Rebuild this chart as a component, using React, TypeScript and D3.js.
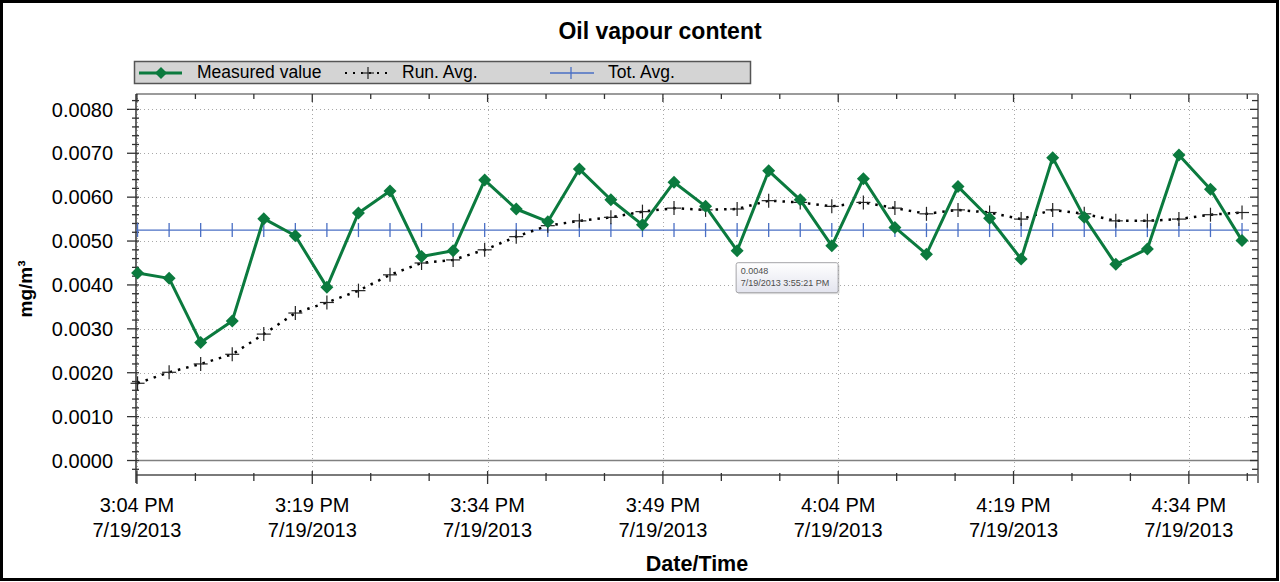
import * as d3 from 'd3';
import React from 'react';

// --------------------------------------------------------
// chart data (7/19/2013, afternoon)
// --------------------------------------------------------
const sampleTimes = [
  '15:04:03', '15:06:45', '15:09:27', '15:12:09', '15:14:51', '15:17:33',
  '15:20:15', '15:22:57', '15:25:39', '15:28:21', '15:31:03', '15:33:45',
  '15:36:27', '15:39:09', '15:41:51', '15:44:33', '15:47:15', '15:49:57',
  '15:52:39', '15:55:21', '15:58:03', '16:00:45', '16:03:27', '16:06:09',
  '16:08:51', '16:11:33', '16:14:15', '16:16:57', '16:19:39', '16:22:21',
  '16:25:03', '16:27:45', '16:30:27', '16:33:09', '16:35:51', '16:38:33'
];

const measuredValues = [
  0.00427, 0.00415, 0.00269, 0.00318, 0.00551, 0.00512, 0.00395, 0.00564, 0.00614,
  0.00465, 0.00478, 0.00639, 0.00573, 0.00544, 0.00664, 0.00594, 0.00537, 0.00634,
  0.00579, 0.00478, 0.00660, 0.00594, 0.00489, 0.00642, 0.00531, 0.00470, 0.00624,
  0.00552, 0.00459, 0.00690, 0.00554, 0.00447, 0.00482, 0.00696, 0.00618, 0.00501
];

const runAvgValues = [
  0.00176, 0.00201, 0.00220, 0.00242, 0.00288, 0.00336, 0.00360, 0.00387, 0.00423,
  0.00450, 0.00457, 0.00480, 0.00510, 0.00535, 0.00546, 0.00554, 0.00567, 0.00575,
  0.00571, 0.00573, 0.00592, 0.00588, 0.00579, 0.00588, 0.00575, 0.00562, 0.00571,
  0.00565, 0.00550, 0.00571, 0.00562, 0.00546, 0.00546, 0.00550, 0.00560, 0.00565
];

const totAvgValue = 0.00525;

const yMajorTicks = [0, 0.001, 0.002, 0.003, 0.004, 0.005, 0.006, 0.007, 0.008];
const xMajorTicks = ['15:04:00', '15:19:00', '15:34:00', '15:49:00', '16:04:00', '16:19:00', '16:34:00'];
const xDomain = ['15:03:55', '16:39:55'];
const yDomain = [-0.00033, 0.00835];

const legendItems = ['Measured value', 'Run. Avg.', 'Tot. Avg.'];
const tooltipIndex = 19;

// --------------------------------------------------------
const W = 1280, H = 582;
const plot = { left: 136, right: 1258, top: 94, bottom: 475 };
const GREEN = '#0b7a3e';
const BLUE = '#4a6fc4';
const FONT = '"Liberation Sans", Arial, sans-serif';

const parseTime = d3.timeParse('%m/%d/%Y %H:%M:%S');
const toDate = (t: string) => parseTime('07/19/2013 ' + t) as Date;

function App() {
  const x = d3.scaleTime()
    .domain(xDomain.map(toDate))
    .range([plot.left, plot.right]);
  const y = d3.scaleLinear()
    .domain(yDomain)
    .range([plot.bottom, plot.top]);

  const dates = sampleTimes.map(toDate);
  const measured = dates.map((d, i) => ({ d, v: measuredValues[i] }));
  const runAvg = dates.map((d, i) => ({ d, v: runAvgValues[i] }));

  const line = d3.line<{ d: Date, v: number }>().x(p => x(p.d)).y(p => y(p.v));

  // minor ticks: every 5 minutes on x, every 0.0002 on y
  const xMinor = d3.timeMinute.range(toDate('15:04:00'), toDate('16:40:00'))
    .filter(d => (d.getMinutes() + 60 - 4) % 5 === 0);
  const yMinor = d3.range(-1, 42).map(i => i * 0.0002)
    .filter(v => v >= yDomain[0] && v <= yDomain[1]);

  const fmtTime = d3.timeFormat('%-I:%M %p');
  const fmtDate = d3.timeFormat('%-m/%-d/%Y');
  const fmtVal = d3.format('.4f');
  const fmtTip = d3.timeFormat('%-m/%-d/%Y %-I:%M:%S %p');

  const diamond = (cx: number, cy: number, r: number) =>
    `M${cx},${cy - r}L${cx + r},${cy}L${cx},${cy + r}L${cx - r},${cy}Z`;

  const isMajorX = (d: Date) => xMajorTicks.some(t => +toDate(t) === +d);
  const isMajorY = (v: number) => yMajorTicks.some(t => Math.abs(t - v) < 1e-9);

  const tip = measured[tooltipIndex];
  const tipX = x(tip.d) - 1, tipY = y(tip.v) + 12;

  return (
    <svg width={W} height={H} style={{ position: 'absolute', left: 0, top: 0, background: '#fff' }}
      fontFamily={FONT}>
      <defs>
        <clipPath id="plotClip">
          <rect x={plot.left} y={plot.top} width={plot.right - plot.left} height={plot.bottom - plot.top} />
        </clipPath>
        <linearGradient id="tipGrad" x1="0" y1="0" x2="0" y2="1">
          <stop offset="0" stopColor="#ffffff" />
          <stop offset="1" stopColor="#e3e4ee" />
        </linearGradient>
      </defs>

      {/* outer frame */}
      <rect x={1.5} y={1.5} width={W - 4} height={H - 4} fill="#fff" stroke="#000" strokeWidth={3} />

      {/* title */}
      <text x={660} y={39} textAnchor="middle" fontSize={23} fontWeight="bold">Oil vapour content</text>

      {/* legend */}
      <g>
        <rect x={134.5} y={61.5} width={616} height={22} fill="#d4d4d4" stroke="#555" strokeWidth={1.5} />
        <line x1={139} x2={182} y1={73} y2={73} stroke={GREEN} strokeWidth={3} />
        <path d={diamond(161, 73, 6)} fill={GREEN} />
        <text x={197} y={78} fontSize={17.5}>{legendItems[0]}</text>

        <line x1={345} x2={390} y1={73} y2={73} stroke="#000" strokeWidth={2.2} strokeDasharray="2 6" />
        <line x1={362} x2={374} y1={73} y2={73} stroke="#222" strokeWidth={1.2} />
        <line x1={368} x2={368} y1={67} y2={79} stroke="#222" strokeWidth={1.2} />
        <text x={402} y={78} fontSize={17.5}>{legendItems[1]}</text>

        <line x1={550} x2={594} y1={73} y2={73} stroke={BLUE} strokeWidth={1.3} />
        <line x1={571} x2={571} y1={67} y2={79} stroke={BLUE} strokeWidth={1.3} />
        <text x={608} y={78} fontSize={17.5}>{legendItems[2]}</text>
      </g>

      {/* grid */}
      <g stroke="#a8a8a8" strokeWidth={1} strokeDasharray="1 3">
        {yMajorTicks.filter(v => v > 0).map(v => (
          <line key={'gy' + v} x1={plot.left} x2={plot.right} y1={Math.round(y(v)) + 0.5} y2={Math.round(y(v)) + 0.5} />
        ))}
        {xMajorTicks.map(t => (
          <line key={'gx' + t} x1={Math.round(x(toDate(t))) + 0.5} x2={Math.round(x(toDate(t))) + 0.5}
            y1={plot.top} y2={plot.bottom} />
        ))}
      </g>

      {/* zero line */}
      <line x1={plot.left} x2={plot.right} y1={y(0)} y2={y(0)} stroke="#808080" strokeWidth={1.5} />

      {/* plot frame: top and right mirror the ticks */}
      <line x1={plot.left} x2={plot.right} y1={plot.top} y2={plot.top} stroke="#7a7a7a" strokeWidth={1.5} />
      <line x1={plot.right} x2={plot.right} y1={plot.top} y2={plot.bottom + 8} stroke="#7a7a7a" strokeWidth={2} />
      <line x1={plot.left} x2={plot.right} y1={plot.bottom} y2={plot.bottom} stroke="#7a7a7a" strokeWidth={2} />
      <line x1={plot.left} x2={plot.left} y1={plot.top} y2={plot.bottom + 8} stroke="#333" strokeWidth={1.5} />

      {/* x ticks (bottom and top) */}
      <g stroke="#333" strokeWidth={1.3}>
        {xMinor.map(d => {
          const major = isMajorX(d);
          const px = x(d);
          return (
            <g key={'xt' + +d}>
              <line x1={px} x2={px} y1={plot.bottom - (major ? 4 : 2)} y2={plot.bottom + (major ? 9 : 6)} />
              <line x1={px} x2={px} y1={plot.top} y2={plot.top + (major ? 8 : 5)} />
            </g>
          );
        })}
      </g>

      {/* y ticks (left and right) */}
      <g stroke="#333" strokeWidth={1.3}>
        {yMinor.map(v => {
          const major = isMajorY(v);
          const py = y(v);
          return (
            <g key={'yt' + v}>
              <line x1={plot.left - (major ? 9 : 4)} x2={plot.left + 3} y1={py} y2={py} />
              <line x1={plot.right - (major ? 8 : 6)} x2={plot.right} y1={py} y2={py} />
            </g>
          );
        })}
      </g>

      {/* y tick labels */}
      <g fontSize={20} textAnchor="end">
        {yMajorTicks.map(v => (
          <text key={'yl' + v} x={113} y={y(v)} dy="0.36em">{fmtVal(v)}</text>
        ))}
      </g>

      {/* x tick labels */}
      <g fontSize={20} textAnchor="middle">
        {xMajorTicks.map(t => {
          const d = toDate(t);
          return (
            <g key={'xl' + t}>
              <text x={x(d)} y={512}>{fmtTime(d)}</text>
              <text x={x(d)} y={537}>{fmtDate(d)}</text>
            </g>
          );
        })}
      </g>

      {/* axis titles */}
      <text x={(plot.left + plot.right) / 2} y={571} textAnchor="middle" fontSize={21.5} fontWeight="bold">Date/Time</text>
      <text transform={`translate(32,${289}) rotate(-90)`} textAnchor="middle" fontSize={19} fontWeight="bold">mg/m³</text>

      {/* total average */}
      <g clipPath="url(#plotClip)" stroke={BLUE} strokeWidth={1.3}>
        <line x1={x(dates[0]) - 7} x2={x(dates[dates.length - 1]) + 7} y1={y(totAvgValue)} y2={y(totAvgValue)} />
        {dates.map((d, i) => (
          <line key={'ta' + i} x1={x(d)} x2={x(d)} y1={y(totAvgValue) - 7} y2={y(totAvgValue) + 7} />
        ))}
      </g>

      {/* running average */}
      <path d={line(runAvg) || ''} fill="none" stroke="#000" strokeWidth={2.5} strokeDasharray="2.5 6" />
      <g stroke="#222" strokeWidth={1.2}>
        {runAvg.map((p, i) => (
          <g key={'ra' + i}>
            <line x1={x(p.d) - 7} x2={x(p.d) + 7} y1={y(p.v)} y2={y(p.v)} />
            <line x1={x(p.d)} x2={x(p.d)} y1={y(p.v) - 7} y2={y(p.v) + 7} />
          </g>
        ))}
      </g>

      {/* measured values */}
      <path d={line(measured) || ''} fill="none" stroke={GREEN} strokeWidth={3} strokeLinejoin="round" />
      {measured.map((p, i) => (
        <path key={'mv' + i} d={diamond(x(p.d), y(p.v), 6.5)} fill={GREEN} />
      ))}

      {/* tooltip */}
      <g>
        <rect x={tipX + 1.5} y={tipY + 1.5} width={102} height={30} rx={2} fill="#000" opacity={0.12} />
        <rect x={tipX} y={tipY} width={102} height={30} rx={2} fill="url(#tipGrad)" stroke="#a4a4a8" strokeWidth={1} />
        <text x={tipX + 4.5} y={tipY + 11.5} fontSize={9} fill="#4d4d4d">{fmtVal(tip.v)}</text>
        <text x={tipX + 4.5} y={tipY + 23} fontSize={9} fill="#4d4d4d">{fmtTip(tip.d)}</text>
      </g>
    </svg>
  );
}

export default App;
